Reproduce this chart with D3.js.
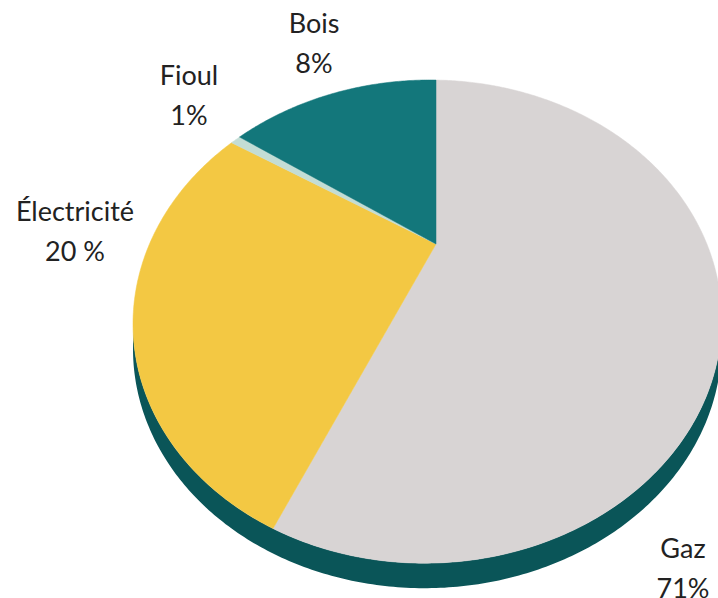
<!DOCTYPE html>
<html>
<head>
<meta charset="utf-8">
<script src="https://cdn.jsdelivr.net/npm/d3@7"></script>
<style>
  html, body { margin: 0; padding: 0; background: #ffffff; }
  svg { display: block; }
</style>
</head>
<body>
<svg id="chart" width="718" height="598"></svg>
<script>
// ---- data ----
const categories = ["Gaz", "Électricité", "Fioul", "Bois"];
// drawn slice shares, estimated from the picture's geometry (clockwise from 12 o'clock)
const sliceShares = [56.67, 27.36, 0.69, 15.28];
// label texts as printed on the chart
const percentLabels = ["71%", "20 %", "1%", "8%"];

// ---- styles / layout ----
const colors = {
  "Gaz": "#d8d4d4",
  "Électricité": "#f3c843",
  "Fioul": "#c3ddd5",
  "Bois": "#13777b"
};
const sideColor = "#0a5558";
const labelLayout = {
  "Gaz":         { x: 683, y: 558 },
  "Électricité": { x: 75,  y: 221 },
  "Fioul":       { x: 189, y: 85 },
  "Bois":        { x: 314, y: 33 }
};
const lineGap = 39.5;

// perspective projection of a tilted disc
const cx = 436, cy = 244, B = 216.6, k = 0.321, m = 0.028, depth = 25;
const leftReach = 303;
const q = Math.sqrt(1 - k * k);
const A = leftReach / (q / (1 - k * k - m * q));
function proj(theta, r = 1, dy = 0) {
  const u = r * Math.sin(theta), v = -r * Math.cos(theta);
  const s = 1 / (1 - k * v + m * u);
  return [cx + A * u * s, cy + B * v * s + dy];
}

const svg = d3.select("#chart");

const pie = d3.pie().sort(null).value(d => d.value).startAngle(0).endAngle(2 * Math.PI);
const arcs = pie(categories.map((c, i) => ({ name: c, value: sliceShares[i] })));

const line = d3.line();

// side (extrusion) along the front of the disc
const thL = 2 * Math.PI - Math.acos(-k); // leftmost point
const thR = Math.acos(-k);               // rightmost point
const n = 240;
const front = d3.range(n + 1).map(i => thR + (thL - thR) * i / n);
const sidePts = front.map(t => proj(t, 1, 0)).concat(front.slice().reverse().map(t => proj(t, 1, depth)));
svg.append("path")
  .attr("d", line(sidePts) + "Z")
  .attr("fill", sideColor);

// top face slices
function slicePath(a) {
  const steps = Math.max(4, Math.ceil((a.endAngle - a.startAngle) / 0.01));
  const pts = [proj(0, 0)];
  for (let i = 0; i <= steps; i++) {
    const t = a.startAngle + (a.endAngle - a.startAngle) * i / steps;
    pts.push(proj(t, 1));
  }
  return line(pts) + "Z";
}
svg.append("g").selectAll("path")
  .data(arcs)
  .join("path")
  .attr("d", slicePath)
  .attr("fill", d => colors[d.data.name])
  .attr("stroke", d => colors[d.data.name])
  .attr("stroke-width", 0.5);

// labels
const lg = svg.append("g")
  .attr("font-family", "Lato, 'Open Sans', sans-serif")
  .attr("font-size", 27)
  .attr("fill", "#222222")
  .attr("text-anchor", "middle");
categories.forEach((c, i) => {
  const p = labelLayout[c];
  const t = lg.append("text").attr("x", p.x).attr("y", p.y);
  t.append("tspan").attr("x", p.x).attr("y", p.y).text(c);
  t.append("tspan").attr("x", p.x).attr("y", p.y + lineGap).text(percentLabels[i]);
});
</script>
</body>
</html>
